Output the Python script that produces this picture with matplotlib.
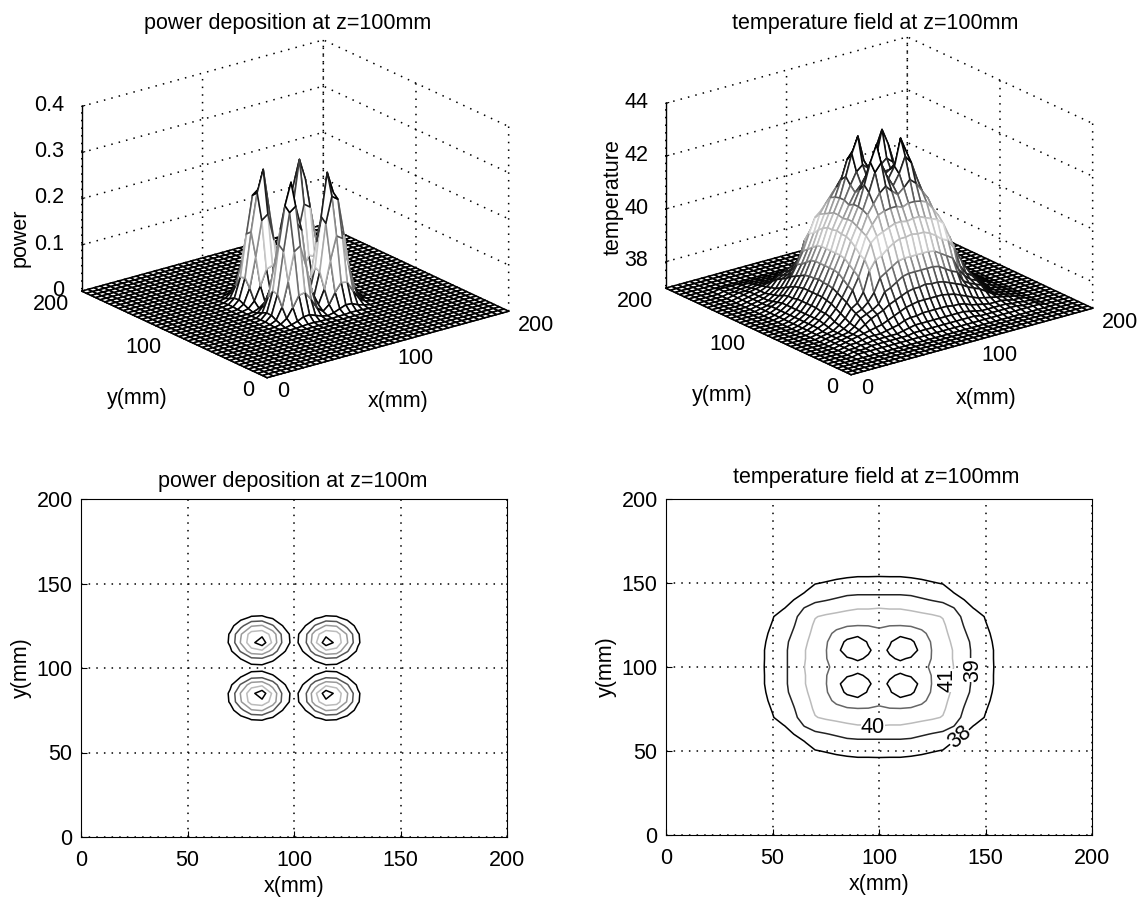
"""Power deposition and temperature field at z=100mm: two mesh views, two contour views."""
import numpy as np
import matplotlib
matplotlib.use("Agg")
import matplotlib.pyplot as plt
from matplotlib.colors import LinearSegmentedColormap

plt.rcParams["font.family"] = ["Liberation Sans", "DejaVu Sans"]

# grid step is 5 mm, 0..200; both fields are mirror symmetric about x=100 and y=100
grid_mm = list(range(0, 205, 5))

# lower-left quarter of the power field, x and y = 60..100 mm (zero outside)
power_quarter = [
    [.000, .000, .000, .001, .002, .002, .001, .001, .000],
    [.000, .000, .003, .007, .013, .014, .009, .004, .001],
    [.000, .003, .012, .032, .055, .058, .040, .017, .006],
    [.001, .007, .032, .084, .145, .154, .105, .046, .016],
    [.002, .013, .055, .145, .225, .235, .180, .079, .027],
    [.002, .014, .058, .154, .235, .282, .190, .084, .029],
    [.001, .009, .040, .105, .180, .190, .131, .057, .020],
    [.001, .004, .017, .046, .079, .084, .057, .025, .009],
    [.000, .001, .006, .016, .027, .029, .020, .009, .003],
]

# lower-left quarter of the temperature field, x and y = 25..100 mm (37 outside)
temp_quarter = [
    [37.05, 37.05, 37.05, 37.05, 37.05, 37.05, 37.05, 37.05, 37.05, 37.05, 37.05, 37.05, 37.05, 37.05, 37.05, 37.05],
    [37.05, 37.05, 37.05, 37.10, 37.10, 37.10, 37.10, 37.10, 37.10, 37.10, 37.15, 37.15, 37.15, 37.15, 37.15, 37.15],
    [37.05, 37.05, 37.10, 37.10, 37.15, 37.15, 37.15, 37.15, 37.15, 37.20, 37.25, 37.30, 37.30, 37.30, 37.30, 37.30],
    [37.05, 37.10, 37.10, 37.15, 37.20, 37.20, 37.20, 37.25, 37.30, 37.35, 37.45, 37.50, 37.50, 37.55, 37.55, 37.55],
    [37.05, 37.10, 37.15, 37.20, 37.25, 37.30, 37.35, 37.40, 37.50, 37.60, 37.70, 37.80, 37.85, 37.90, 37.90, 37.90],
    [37.05, 37.10, 37.15, 37.20, 37.30, 37.45, 37.60, 37.70, 37.80, 37.95, 38.05, 38.15, 38.25, 38.30, 38.30, 38.35],
    [37.05, 37.10, 37.15, 37.20, 37.35, 37.60, 37.70, 37.80, 37.95, 38.35, 38.45, 38.60, 38.75, 38.80, 38.80, 38.80],
    [37.05, 37.10, 37.15, 37.25, 37.40, 37.70, 37.80, 38.00, 38.30, 38.80, 38.95, 39.10, 39.25, 39.30, 39.30, 39.30],
    [37.05, 37.10, 37.15, 37.30, 37.50, 37.80, 37.95, 38.30, 39.05, 39.40, 39.50, 39.70, 39.85, 39.95, 39.95, 40.00],
    [37.05, 37.10, 37.20, 37.35, 37.60, 37.95, 38.35, 38.80, 39.40, 39.95, 40.15, 40.25, 40.35, 40.45, 40.45, 40.40],
    [37.05, 37.15, 37.25, 37.45, 37.70, 38.05, 38.45, 38.95, 39.50, 40.15, 40.50, 40.80, 40.90, 40.95, 40.95, 40.85],
    [37.05, 37.15, 37.30, 37.50, 37.80, 38.15, 38.60, 39.10, 39.70, 40.25, 40.80, 41.15, 41.50, 41.70, 41.45, 41.25],
    [37.05, 37.15, 37.30, 37.50, 37.85, 38.25, 38.75, 39.25, 39.85, 40.35, 40.90, 41.50, 42.20, 42.50, 41.90, 41.50],
    [37.05, 37.15, 37.30, 37.55, 37.90, 38.30, 38.80, 39.30, 39.95, 40.45, 40.95, 41.70, 42.50, 43.10, 42.10, 41.70],
    [37.05, 37.15, 37.30, 37.55, 37.90, 38.30, 38.80, 39.30, 39.95, 40.45, 40.95, 41.45, 41.90, 42.10, 41.90, 41.75],
    [37.05, 37.15, 37.30, 37.55, 37.90, 38.35, 38.80, 39.30, 40.00, 40.40, 40.85, 41.25, 41.50, 41.70, 41.75, 41.70],
]

power_ticks = [0, 0.1, 0.2, 0.3, 0.4]
power_levels = [0.05, 0.10, 0.15, 0.20, 0.25]
power_level_colors = ["#000000", "#555555", "#999999", "#bbbbbb", "#000000"]
temp_ticks = [38, 40, 42, 44]
temp_levels = [38, 39, 40, 41, 42]
temp_level_colors = ["#000000", "#222222", "#bbbbbb", "#666666", "#000000"]
# the labels sit a little off the lines in the original, so they are placed by hand
temp_labels = ["38", "39", "40", "41"]
temp_label_x = [138, 144, 97, 132]
temp_label_y = [58, 98, 64, 92]
temp_label_rot = [40, 90, 0, 90]

mesh_cmap = LinearSegmentedColormap.from_list(
    "mesh", ["#000000", "#1a1a1a", "#777777", "#d8d8d8", "#999999", "#333333", "#000000"])

W, H = 1146, 900
FS = 15.5


def _full(quarter, start_mm, floor):
    # pad the typed quarter out to the edge, then mirror about the centre lines
    q = np.asarray(quarter, float)
    n = start_mm // 5
    q = np.pad(q, ((n, 0), (n, 0)), constant_values=floor)
    q = np.hstack([q, q[:, -2::-1]])
    return np.vstack([q, q[-2::-1, :]])


def _rect(cx, cy, size):
    # axes rectangle from a centre and a side in pixels
    return [(cx - size / 2) / W, 1 - (cy + size / 2) / H, size / W, size / H]


def mesh_panel(fig, cx, cy, size, z, zlim, zticks, zfmt, zaspect):
    ax = fig.add_axes(_rect(cx, cy, size), projection="3d", proj_type="ortho")
    ax.patch.set_alpha(0)
    ax.view_init(elev=21, azim=-127.5)
    ax.set_box_aspect((1, 1, zaspect), zoom=1.0)
    X, Y = np.meshgrid(grid_mm, grid_mm)
    surf = ax.plot_surface(X, Y, z, rstride=1, cstride=1, color="white", shade=False,
                           linewidth=1.15, antialiased=True)
    avg = (z[:-1, :-1] + z[1:, :-1] + z[:-1, 1:] + z[1:, 1:]) / 4
    surf.set_edgecolor(mesh_cmap((avg.ravel() - avg.min()) / (avg.max() - avg.min())))
    ax.set_xlim(0, 200); ax.set_ylim(0, 200); ax.set_zlim(*zlim)
    ax.set_xticks([0, 100, 200]); ax.set_yticks([0, 100, 200])
    ax.set_xticklabels(["0", "100", "200"], ha="left", va="center")
    ax.set_yticklabels(["0", "100", "200"], ha="right", va="center")
    ax.set_zticks(zticks); ax.set_zticklabels([zfmt % t for t in zticks], ha="right", va="center")
    for a in (ax.xaxis, ax.yaxis, ax.zaxis):
        a.set_pane_color((1, 1, 1, 0))
        a.pane.set_edgecolor("none")
        a.line.set_color("k")
        a.line.set_linewidth(1.0)
        a._axinfo["grid"].update(color="k", linestyle=(0, (1, 4)), linewidth=1.1)
        a._axinfo["tick"].update(inward_factor=0.0, outward_factor=0.15)
    ax.tick_params(labelsize=FS, pad=1)
    ax.tick_params(axis="z", pad=-1)
    return ax


def contour_panel(fig, left, top, right, bottom, z, levels, colors):
    ax = fig.add_axes([left / W, 1 - bottom / H, (right - left) / W, (bottom - top) / H])
    cs = ax.contour(grid_mm, grid_mm, z, levels=levels, colors=colors, linewidths=1.1)
    ax.set_xlim(0, 200); ax.set_ylim(0, 200)
    ax.set_xticks(range(0, 250, 50)); ax.set_yticks(range(0, 250, 50))
    ax.grid(True, color="k", linestyle=(0, (1, 4)), linewidth=1.1)
    ax.set_axisbelow(True)
    ax.tick_params(direction="in", length=4, labelsize=FS)
    ax.tick_params(axis="x", pad=9)
    ax.tick_params(axis="y", pad=6)
    ax.set_xlabel("x(mm)", fontsize=FS, labelpad=4)
    ax.set_ylabel("y(mm)", fontsize=FS, labelpad=3)
    return ax, cs


def main():
    power = _full(power_quarter, 60, 0.0)
    temp = _full(temp_quarter, 25, 37.0)

    fig = plt.figure(figsize=(W / 100, H / 100), dpi=100, facecolor="white")

    mesh_panel(fig, 289, 215, 460, power, (0, 0.4), power_ticks, "%g", 0.65)
    mesh_panel(fig, 873, 212, 460, temp, (37, 44), temp_ticks, "%d", 0.65)

    contour_panel(fig, 81, 499, 507, 837, power, power_levels, power_level_colors)
    ax, cs = contour_panel(fig, 666, 499, 1092, 835, temp, temp_levels, temp_level_colors)
    for text, x, y, rot in zip(temp_labels, temp_label_x, temp_label_y, temp_label_rot):
        ax.text(x, y, text, fontsize=FS, rotation=rot, ha="center", va="center",
                bbox=dict(facecolor="white", edgecolor="none", pad=0))

    for text, x, y in [("power deposition at z=100mm", 288, 24),
                       ("temperature field at z=100mm", 875, 24),
                       ("power deposition at z=100m", 293, 481),
                       ("temperature field at z=100mm", 876, 477)]:
        fig.text(x / W, 1 - y / H, text, fontsize=FS, ha="center", va="center")
    for text, x, y, rot in [("y(mm)", 137, 398, 0), ("x(mm)", 398, 402, 0), ("power", 20, 238, 90),
                            ("y(mm)", 722, 396, 0), ("x(mm)", 986, 398, 0), ("temperature", 613, 197, 90)]:
        fig.text(x / W, 1 - y / H, text, fontsize=FS, ha="center", va="center", rotation=rot)

    fig.savefig("out.png", dpi=100)


if __name__ == "__main__":
    main()
